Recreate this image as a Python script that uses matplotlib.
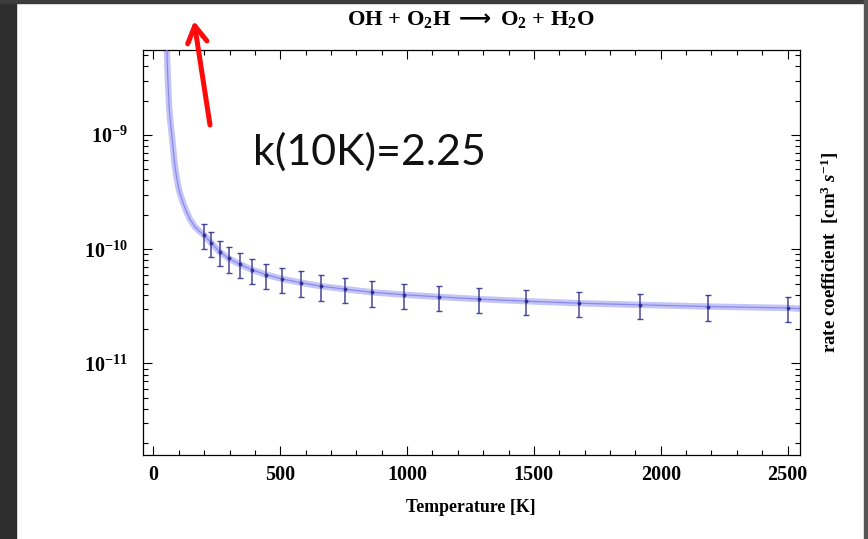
# Rate coefficient of OH + O2H -> O2 + H2O versus temperature (log scale)

import matplotlib
matplotlib.use('Agg')
import matplotlib.pyplot as plt
from matplotlib.patches import Rectangle
from matplotlib.ticker import LogLocator, MultipleLocator, NullFormatter

# error bar points (k in cm^3 s^-1)
temp_pts = [200, 229, 261, 297, 340, 389, 443, 507, 580, 661,
            756, 862, 986, 1125, 1284, 1468, 1676, 1917, 2187, 2500]
k_pts = [13.3e-11, 11.3e-11, 9.5e-11, 8.3e-11, 7.4e-11, 6.6e-11, 6.0e-11, 5.5e-11, 5.1e-11, 4.75e-11,
         4.47e-11, 4.2e-11, 4.0e-11, 3.83e-11, 3.66e-11, 3.51e-11, 3.37e-11, 3.26e-11, 3.15e-11, 3.06e-11]
k_err = [3.3e-11, 2.8e-11, 2.4e-11, 2.1e-11, 1.85e-11, 1.65e-11, 1.5e-11, 1.4e-11, 1.3e-11, 1.2e-11,
         1.1e-11, 1.05e-11, 1.0e-11, 0.96e-11, 0.92e-11, 0.88e-11, 0.84e-11, 0.82e-11, 0.79e-11, 0.77e-11]

# the fitted curve
temp_fit = [51, 53, 56.8, 62, 67, 72.5, 78.5, 84, 92, 101, 114, 128, 143.5, 163, 181] + temp_pts + [2549]
k_fit = [7.0e-9, 5.55e-9, 3.16e-9, 1.77e-9, 1.3e-9, 1.0e-9, 7.4e-10, 5.5e-10, 4.2e-10, 3.3e-10, 2.65e-10,
         2.2e-10, 1.84e-10, 1.58e-10, 1.44e-10] + k_pts + [3.02e-11]

x_ticks = [0, 500, 1000, 1500, 2000, 2500]
y_ticks = [1e-11, 1e-10, 1e-9]
y_tick_labels = [r'$10^{-11}$', r'$10^{-10}$', r'$10^{-9}$']

plt.rcParams['font.family'] = ['Liberation Serif', 'DejaVu Serif']
plt.rcParams['font.weight'] = 'bold'
plt.rcParams['mathtext.fontset'] = 'custom'
plt.rcParams['mathtext.rm'] = 'Liberation Serif:bold'
plt.rcParams['mathtext.bf'] = 'Liberation Serif:bold'
plt.rcParams['mathtext.it'] = 'Liberation Serif:bold:italic'
plt.rcParams['mathtext.sf'] = 'DejaVu Sans'
plt.rcParams['mathtext.default'] = 'rm'
plt.rcParams['mathtext.fallback'] = 'stix'

fig = plt.figure(figsize=(8.68, 5.39), dpi=100)

# slide border strips from the screenshot
fig.patches.append(Rectangle((0, 0), 16 / 868, 1, transform=fig.transFigure, color='#2d2d2d', zorder=0))
fig.patches.append(Rectangle((0, 1 - 3 / 539), 1, 3 / 539, transform=fig.transFigure, color='#3c3c3c', zorder=0))
fig.patches.append(Rectangle((1 - 4 / 868, 0), 4 / 868, 1, transform=fig.transFigure, color='#555555', zorder=0))

ax = fig.add_axes([143 / 868, 84 / 539, 657 / 868, 405 / 539])
ax.set_yscale('log')

# fit curve: light band with a thin darker core
ax.plot(temp_fit, k_fit, color='#c4c4f6', lw=4.6, solid_capstyle='butt', zorder=2)
ax.plot(temp_fit, k_fit, color='#8a8aee', lw=0.9, zorder=3)

ax.errorbar(temp_pts, k_pts, yerr=k_err, fmt='o', ms=1.8, color='#2f2f8f',
            ecolor='#34348f', elinewidth=1.1, capsize=2.4, capthick=1.0, alpha=0.9, zorder=4)

ax.set_xlim(-41, 2549)
ax.set_ylim(1.58e-12, 5.55e-9)

ax.set_xticks(x_ticks)
ax.set_xticklabels([str(t) for t in x_ticks])
ax.xaxis.set_minor_locator(MultipleLocator(100))
ax.set_yticks(y_ticks)
ax.set_yticklabels(y_tick_labels)
ax.yaxis.set_minor_locator(LogLocator(base=10, subs=[2, 3, 4, 5, 6, 7, 8, 9]))
ax.yaxis.set_minor_formatter(NullFormatter())

ax.tick_params(which='both', direction='in', top=True, right=True, width=0.8, labelsize=14.5)
ax.tick_params(which='major', length=6.5)
ax.tick_params(which='minor', length=3.5)
ax.tick_params(axis='x', pad=7)
ax.tick_params(axis='y', pad=11)
for s in ax.spines.values():
    s.set_linewidth(0.9)

fig.text(471 / 868, 1 - 19 / 539, r'OH + O$_2$H $\mathsf{\longrightarrow}$ O$_2$ + H$_2$O',
         ha='center', va='center', fontsize=16.2)
fig.text(471 / 868, 1 - 508 / 539, 'Temperature [K]', ha='center', va='center', fontsize=12.8)
fig.text(830 / 868, 1 - 252 / 539, r'rate coefficient  [cm$^3$ $\mathit{s}^{-1}$]',
         ha='center', va='center', rotation=90, fontsize=13.6)

fig.text(253 / 868, 1 - 152 / 539, 'k(10K)=2.25', ha='left', va='center',
         fontsize=31, fontweight='normal', family='Lato', color='#111111')

ax.annotate('', xy=(194 / 868, 1 - 21 / 539), xycoords='figure fraction',
            xytext=(210 / 868, 1 - 125 / 539), textcoords='figure fraction',
            arrowprops=dict(arrowstyle='->,head_length=0.6,head_width=0.35', lw=3.6,
                            color='#ff0a0a', mutation_scale=20, shrinkA=0, shrinkB=0))

fig.savefig('out.png', dpi=100)
